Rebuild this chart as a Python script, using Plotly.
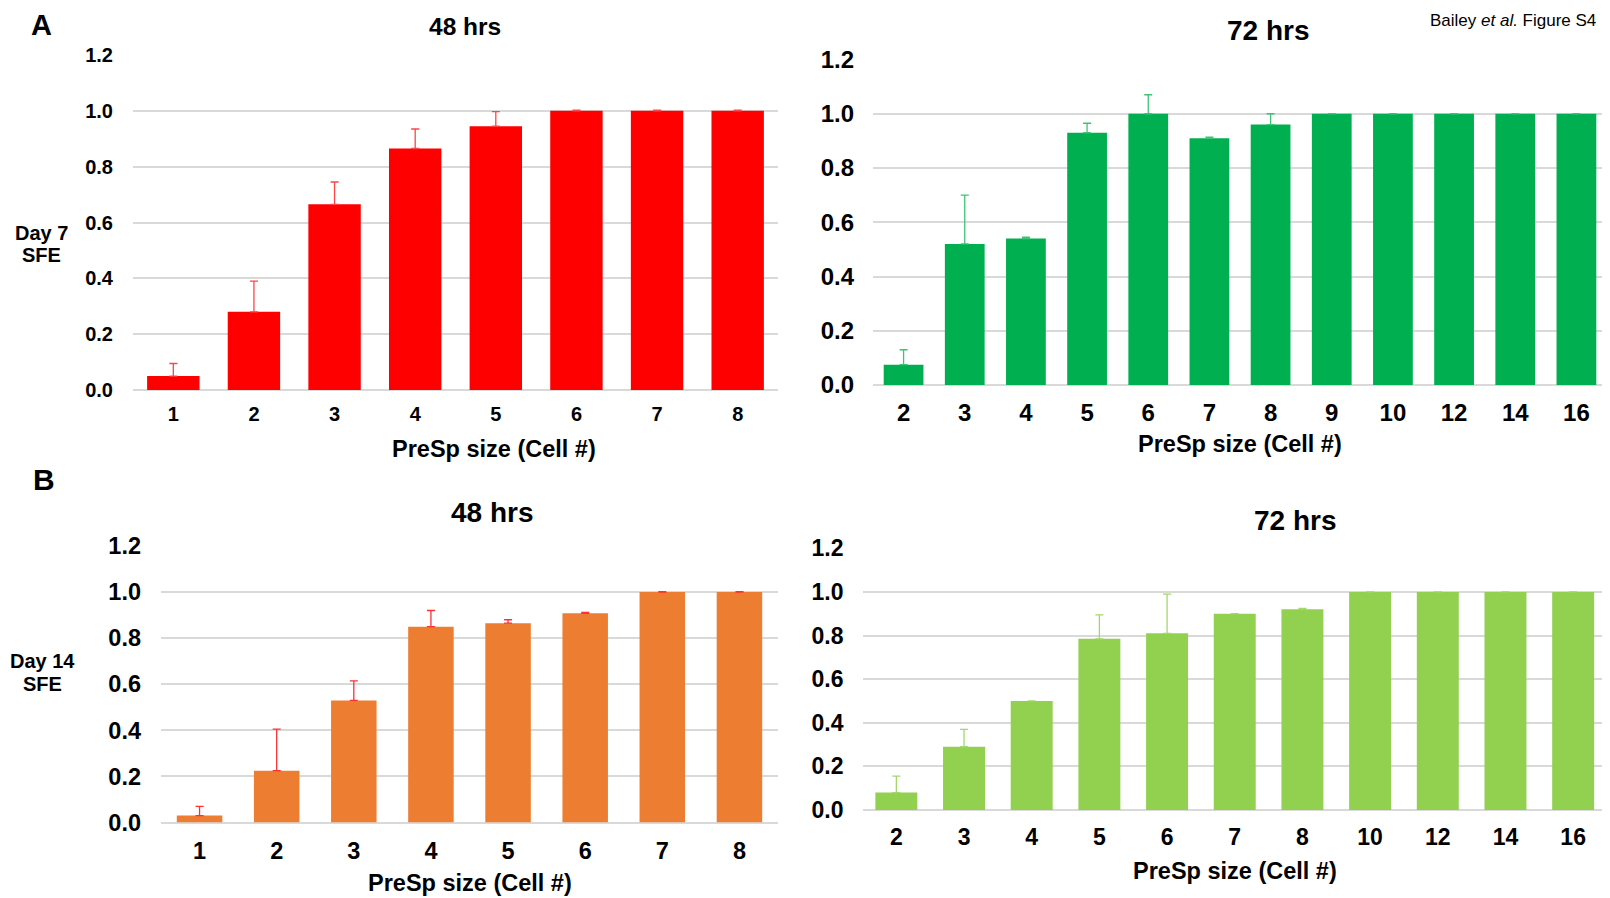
import plotly.graph_objects as go

# ---- data ----
a48_cats = ["1", "2", "3", "4", "5", "6", "7", "8"]
a48_vals = [0.05, 0.28, 0.665, 0.865, 0.945, 1.0, 1.0, 1.0]
a48_err = [0.045, 0.11, 0.08, 0.07, 0.052, 0.002, 0.002, 0.002]

a72_cats = ["2", "3", "4", "5", "6", "7", "8", "9", "10", "12", "14", "16"]
a72_vals = [0.075, 0.52, 0.54, 0.93, 1.0, 0.91, 0.96, 1.0, 1.0, 1.0, 1.0, 1.0]
a72_err = [0.055, 0.18, 0.005, 0.035, 0.07, 0.004, 0.04, 0, 0, 0, 0, 0]

b48_cats = ["1", "2", "3", "4", "5", "6", "7", "8"]
b48_vals = [0.03, 0.225, 0.53, 0.85, 0.865, 0.908, 1.0, 1.0]
b48_err = [0.04, 0.18, 0.085, 0.07, 0.015, 0.004, 0.002, 0.002]

b72_cats = ["2", "3", "4", "5", "6", "7", "8", "10", "12", "14", "16"]
b72_vals = [0.08, 0.29, 0.50, 0.785, 0.81, 0.90, 0.92, 1.0, 1.0, 1.0, 1.0]
b72_err = [0.075, 0.08, 0, 0.11, 0.18, 0, 0.004, 0, 0, 0, 0]

y_ticks = [0.0, 0.2, 0.4, 0.6, 0.8, 1.0, 1.2]
y_labels = ["0.0", "0.2", "0.4", "0.6", "0.8", "1.0", "1.2"]

FONT = "Liberation Sans Narrow, Arial Narrow, Liberation Sans, Arial, sans-serif"
W, H = 1610, 898
OFF = 8  # page body margin offset
GRID = "#D9D9D9"

def px(x):
    return (x - OFF) / W

def py(y):
    return 1 - (y - OFF) / H

panels = [
    dict(cats=a48_cats, vals=a48_vals, err=a48_err, color="#FF0000", ecol="#FF4545",
         x0=133, x1=778, ytop=55, ybot=390, tf=20, bw=0.65, xs=10, ys=19),
    dict(cats=a72_cats, vals=a72_vals, err=a72_err, color="#00B050", ecol="#3CC474",
         x0=873, x1=1607, ytop=59.5, ybot=385, tf=24, bw=0.65, xs=11, ys=18),
    dict(cats=b48_cats, vals=b48_vals, err=b48_err, color="#ED7D31", ecol="#FF3030",
         x0=161, x1=778, ytop=546, ybot=822.5, tf=23.5, bw=0.59, xs=12, ys=19),
    dict(cats=b72_cats, vals=b72_vals, err=b72_err, color="#92D050", ecol="#A2D86A",
         x0=862.5, x1=1607, ytop=548.3, ybot=810, tf=23, bw=0.62, xs=11, ys=18),
]

fig = go.Figure()
layout = dict(
    width=W, height=H, margin=dict(l=0, r=0, t=0, b=0, autoexpand=False),
    paper_bgcolor="white", plot_bgcolor="white", showlegend=False,
    font=dict(family=FONT, color="black"),
)
for i, p in enumerate(panels, start=1):
    xa = "x" if i == 1 else f"x{i}"
    ya = "y" if i == 1 else f"y{i}"
    fig.add_trace(go.Bar(
        x=p["cats"], y=p["vals"], xaxis=xa, yaxis=ya, width=p["bw"],
        marker=dict(color=p["color"], line=dict(width=0)),
        error_y=dict(type="data", symmetric=False, array=p["err"],
                     arrayminus=[0] * len(p["err"]), color=p["ecol"],
                     thickness=1.3, width=4),
    ))
    xk = "xaxis" if i == 1 else f"xaxis{i}"
    yk = "yaxis" if i == 1 else f"yaxis{i}"
    layout[xk] = dict(domain=[px(p["x0"]), px(p["x1"])], anchor=ya, automargin=False,
                      type="category", showgrid=False, showline=False, ticks="",
                      tickfont=dict(family=FONT, size=p["tf"], color="black", weight="bold"),
                      ticklabelstandoff=p["xs"])
    layout[yk] = dict(domain=[py(p["ybot"]), py(p["ytop"])], anchor=xa, automargin=False,
                      range=[0, 1.2], tickvals=y_ticks, ticktext=y_labels,
                      showgrid=True, gridcolor=GRID, gridwidth=1.6,
                      zeroline=True, zerolinecolor=GRID, zerolinewidth=1.6,
                      showline=False, ticks="",
                      tickfont=dict(family=FONT, size=p["tf"], color="black", weight="bold"),
                      ticklabelstandoff=p["ys"])

fig.update_layout(**layout)

def ann(text, x, y, size, bold=True, xanchor="center", yanchor="middle"):
    fig.add_annotation(
        text=text, x=px(x), y=py(y), xref="paper", yref="paper",
        xanchor=xanchor, yanchor=yanchor, showarrow=False, borderpad=0,
        font=dict(family=FONT, size=size, color="black", weight="bold" if bold else "normal"),
    )

ann("A", 41, OFF, 29, yanchor="top")
ann("B", 44, 479, 30)
ann("48 hrs", 465, 27, 24.5)
ann("72 hrs", 1268, 31, 28)
ann("48 hrs", 492, 512, 28)
ann("72 hrs", 1295, 520, 28)
ann("Bailey <i>et al.</i> Figure S4", 1597, 21, 17, bold=False, xanchor="right")
ann("Day 7", 41, 233, 20)
ann("SFE", 41, 255, 20)
ann("Day 14", 42, 661, 20)
ann("SFE", 42, 684, 20)
ann("PreSp size (Cell #)", 494, 449, 23.5)
ann("PreSp size (Cell #)", 1240, 444, 23.5)
ann("PreSp size (Cell #)", 470, 883, 23.5)
ann("PreSp size (Cell #)", 1235, 871, 23.5)

fig.write_html("out.html")
